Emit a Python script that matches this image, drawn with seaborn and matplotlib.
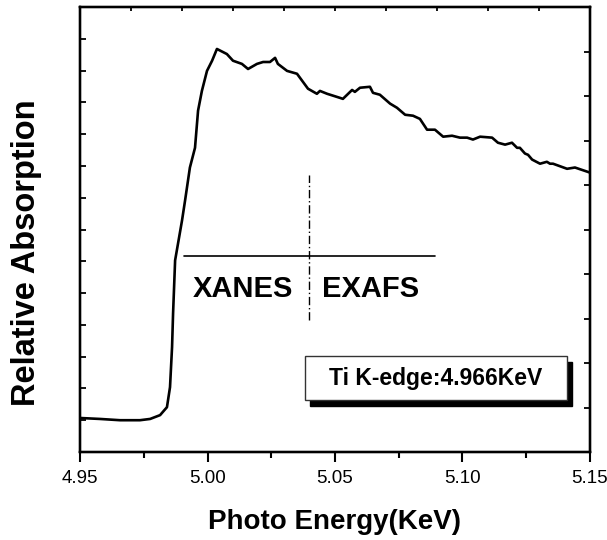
import numpy as np
import pandas as pd
import seaborn as sns
import matplotlib
matplotlib.use("Agg")
import matplotlib.pyplot as plt
from matplotlib.patches import Rectangle

# ---- data ----
energy = [4.9500, 4.9578, 4.9657, 4.9735, 4.9775, 4.9814, 4.9841, 4.9853, 4.9861, 4.9865,
          4.9873, 4.9900, 4.9912, 4.9931, 4.9951, 4.9963, 4.9978, 4.9998, 5.0018, 5.0037,
          5.0076, 5.0100, 5.0135, 5.0159, 5.0194, 5.0218, 5.0245, 5.0265, 5.0276, 5.0312,
          5.0351, 5.0394, 5.0429, 5.0441, 5.0469, 5.0520, 5.0531, 5.0567, 5.0578, 5.0598,
          5.0637, 5.0649, 5.0676, 5.0716, 5.0743, 5.0775, 5.0806, 5.0833, 5.0861, 5.0892,
          5.0924, 5.0959, 5.0990, 5.1018, 5.1041, 5.1069, 5.1116, 5.1139, 5.1167, 5.1194,
          5.1214, 5.1225, 5.1245, 5.1257, 5.1273, 5.1304, 5.1331, 5.1343, 5.1355, 5.1410,
          5.1441, 5.1500]
absorption = [0.107, 0.104, 0.100, 0.100, 0.104, 0.116, 0.141, 0.204, 0.330, 0.436,
              0.603, 0.728, 0.791, 0.895, 0.957, 1.074, 1.136, 1.199, 1.231, 1.268,
              1.252, 1.231, 1.221, 1.205, 1.221, 1.227, 1.227, 1.240, 1.221, 1.199,
              1.190, 1.143, 1.127, 1.136, 1.127, 1.114, 1.111, 1.139, 1.133, 1.146,
              1.149, 1.130, 1.124, 1.096, 1.083, 1.061, 1.058, 1.048, 1.014, 1.014,
              0.992, 0.995, 0.989, 0.989, 0.983, 0.992, 0.989, 0.973, 0.967, 0.973,
              0.957, 0.957, 0.939, 0.935, 0.920, 0.907, 0.913, 0.907, 0.907, 0.891,
              0.895, 0.879]

x_ticks = [4.95, 5.00, 5.05, 5.10, 5.15]
x_tick_labels = ["4.95", "5.00", "5.05", "5.10", "5.15"]
x_label = "Photo Energy(KeV)"
y_label = "Relative Absorption"
region_labels = ["XANES", "EXAFS"]
edge_text = "Ti K-edge:4.966KeV"

df = pd.DataFrame({"energy": energy, "absorption": absorption})

sns.set_style("ticks")
plt.rcParams["font.family"] = ["Liberation Sans", "DejaVu Sans"]
plt.rcParams.update({"text.color": "black", "axes.labelcolor": "black",
                     "xtick.color": "black", "ytick.color": "black",
                     "axes.edgecolor": "black"})

fig = plt.figure(figsize=(6.07, 5.40), dpi=100)
ax = fig.add_axes([80 / 607, 88 / 540, 510 / 607, 445 / 540])

sns.lineplot(data=df, x="energy", y="absorption", ax=ax, color="black",
             linewidth=1.9, sort=False)

ax.set_xlim(4.95, 5.15)
ax.set_ylim(0, 1.4)

# bottom axis
ax.set_xticks(x_ticks)
ax.set_xticklabels(x_tick_labels, fontsize=13.5)
ax.set_xticks(np.arange(4.975, 5.15, 0.05), minor=True)
ax.tick_params(axis="x", which="major", direction="out", length=7, width=1.5, pad=6)
ax.tick_params(axis="x", which="minor", direction="out", length=4, width=1.5)
# left axis
ax.set_yticks(np.linspace(0, 1.4, 15))
ax.set_yticklabels([])
ax.tick_params(axis="y", direction="in", length=4, width=1.3)

for s in ax.spines.values():
    s.set_linewidth(1.6)
    s.set_visible(True)
    s.set_color("black")

# right axis ticks
axr = ax.twinx()
axr.set_ylim(0, 1.4)
axr.set_yticks(np.linspace(0, 1.4, 11))
axr.set_yticklabels([])
axr.tick_params(axis="y", direction="in", length=4, width=1.3)
# top axis ticks
axt = ax.twiny()
axt.set_xlim(4.95, 5.15)
axt.set_xticks([4.95 + 0.02 * k for k in range(11)])
axt.set_xticklabels([])
axt.tick_params(axis="x", direction="in", length=3, width=1.3)
for a in (axr, axt):
    for s in a.spines.values():
        s.set_linewidth(1.6)
        s.set_color("black")

ax.set_xlabel(x_label, fontsize=20, fontweight="bold")
ax.set_ylabel(y_label, fontsize=23.5, fontweight="bold")
ax.xaxis.set_label_coords(0.5, -0.157)
ax.xaxis.label.set_va("center")
ax.yaxis.set_label_coords(-0.104, 0.447)
ax.yaxis.label.set_va("center")

# XANES / EXAFS annotation
ax.plot([4.9908, 5.0892], [0.618, 0.618], color="black", linewidth=1.2)
ax.plot([5.0398, 5.0398], [0.414, 0.873], color="black", linewidth=1.0,
        linestyle=(0, (6, 2, 1, 2)))
ax.text(5.0139, 0.514, region_labels[0], fontsize=21, fontweight="bold",
        ha="center", va="center")
ax.text(5.0639, 0.514, region_labels[1], fontsize=21, fontweight="bold",
        ha="center", va="center")

# Edge box with shadow
x0, x1 = (305 - 80) / 510, (567 - 80) / 510
y0, y1 = (452 - 400) / 445, (452 - 356) / 445
ax.add_patch(Rectangle((x0 + 5 / 510, y0 - 6 / 445), x1 - x0, y1 - y0,
                       transform=ax.transAxes, facecolor="black", edgecolor="black",
                       zorder=5))
ax.add_patch(Rectangle((x0, y0), x1 - x0, y1 - y0, transform=ax.transAxes,
                       facecolor="white", edgecolor="#333333", linewidth=1.0, zorder=6))
ax.text((x0 + x1) / 2, (y0 + y1) / 2, edge_text, transform=ax.transAxes,
        fontsize=16.5, fontweight="bold", ha="center", va="center", zorder=7)

fig.savefig("out.png", dpi=100)
